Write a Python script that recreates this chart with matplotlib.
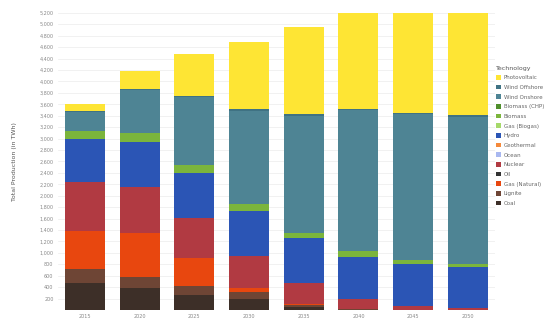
import matplotlib
matplotlib.use("Agg")
import matplotlib.pyplot as plt
import numpy as np

years = ["2015", "2020", "2025", "2030", "2035", "2040", "2045", "2050"]

# Stack order bottom -> top (legend shows top -> bottom)
technologies = ["Coal", "Lignite", "Gas (Natural)", "Oil", "Nuclear", "Ocean",
                "Geothermal", "Hydro", "Gas (Biogas)", "Biomass", "Biomass (CHP)",
                "Wind Onshore", "Wind Offshore", "Photovoltaic"]

coal          = [477, 380, 262, 192, 60, 8, 0, 0]
lignite       = [240, 192, 157, 117, 35, 5, 0, 0]
gas_natural   = [665, 770, 484, 80, 17, 0, 0, 0]
oil           = [10, 8, 5, 3, 2, 0, 0, 0]
nuclear       = [840, 805, 700, 560, 367, 175, 70, 30]
ocean         = [0, 0, 0, 0, 0, 0, 0, 0]
geothermal    = [0, 0, 0, 0, 0, 0, 0, 0]
hydro         = [752, 787, 787, 787, 775, 747, 743, 717]
gas_biogas    = [0, 0, 0, 0, 0, 0, 0, 0]
biomass       = [157, 157, 140, 112, 87, 93, 70, 58]
biomass_chp   = [0, 0, 0, 0, 0, 0, 0, 0]
wind_onshore  = [318, 745, 1192, 1637, 2056, 2471, 2543, 2581]
wind_offshore = [20, 25, 25, 25, 25, 25, 25, 25]
photovoltaic  = [129, 320, 724, 1182, 1527, 1676, 1749, 1789]

series = [coal, lignite, gas_natural, oil, nuclear, ocean, geothermal, hydro,
          gas_biogas, biomass, biomass_chp, wind_onshore, wind_offshore, photovoltaic]

colors = ["#3d2f28", "#6e4535", "#e8470f", "#333333", "#b13a42", "#a9b8f0",
          "#f58a3c", "#2b55b5", "#a6d96a", "#7bb53c", "#4f8f2c",
          "#4e8494", "#3f7283", "#fee534"]

fig = plt.figure(figsize=(5.44, 3.2), dpi=100)
ax = fig.add_axes([0.106, 0.031, 0.804, 0.929])

x = np.arange(len(years))
bottom = np.zeros(len(years))
handles = []
for name, vals, col in zip(technologies, series, colors):
    vals = np.array(vals, dtype=float)
    h = ax.bar(x, vals, bottom=bottom, width=0.73, color=col, label=name,
               linewidth=0)
    handles.append(h)
    bottom += vals

ax.set_ylim(0, 5200)
ax.set_xlim(-0.5, len(years) - 0.5)
ax.set_yticks(np.arange(0, 5201, 200))
ax.set_yticklabels([f"{v:,}" if v > 0 else "" for v in range(0, 5201, 200)])
ax.set_xticks(x)
ax.set_xticklabels(years)
ax.tick_params(axis="both", length=0, labelsize=3.5, colors="#888888", pad=3)
ax.grid(axis="y", color="#ececec", linewidth=0.5)
ax.set_axisbelow(True)
for s in ax.spines.values():
    s.set_visible(False)
ax.set_ylabel("Total Production (in TWh)", fontsize=4.5, color="#555555", labelpad=16)

leg = fig.legend(handles[::-1], technologies[::-1], loc="upper left",
                 bbox_to_anchor=(0.912, 0.795), frameon=False, fontsize=4,
                 title="Technology", title_fontsize=4.5, handlelength=0.9,
                 handleheight=0.9, labelspacing=0.8, handletextpad=0.5,
                 borderaxespad=0, borderpad=0)
leg._legend_box.align = "left"
for t in leg.get_texts():
    t.set_color("#666666")
leg.get_title().set_color("#555555")

fig.savefig("out.png", dpi=100)
